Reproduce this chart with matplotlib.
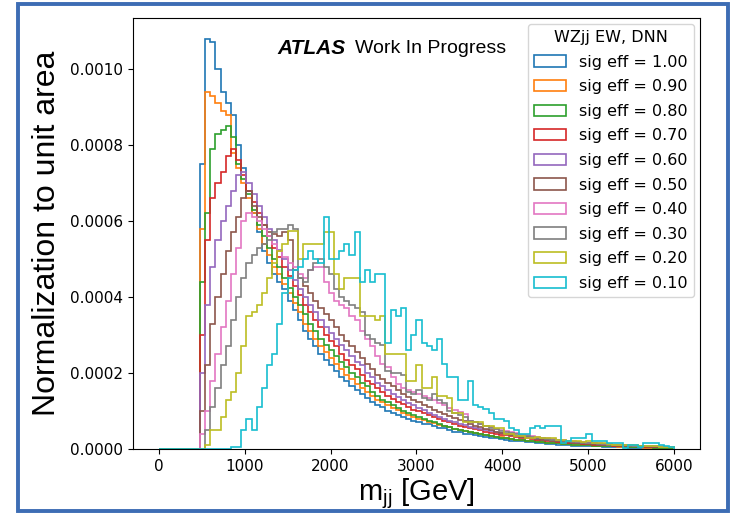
import numpy as np
import matplotlib
matplotlib.use("Agg")
import matplotlib.pyplot as plt
from matplotlib.patches import Rectangle
from matplotlib.ticker import FormatStrFormatter

plt.rcParams['mathtext.fontset'] = 'custom'
plt.rcParams['mathtext.rm'] = 'Liberation Sans'
plt.rcParams['mathtext.it'] = 'Liberation Sans:italic'

# m_jj binning, 60 GeV bins from 0 to 6000
edges = np.arange(0, 6001, 60)
unit = 1e-5  # values below are in units of 1e-5 (normalised to unit area)

eff100 = [0, 0, 0, 0, 0, 0, 0, 0, 75, 108,
          107, 100, 94, 91, 88, 80, 74, 68, 62, 57,
          52, 49, 46, 44, 42, 39, 36.5, 34, 31, 29,
          27, 25, 23.5, 22, 20.5, 19, 18, 16.5, 15.5, 14.5,
          13.5, 12.5, 11.5, 11, 10, 9.5, 9, 8.5, 8, 7.5,
          7, 6.5, 6.5, 6, 5.5, 5.5, 5, 4.5, 4.5, 4,
          4, 3.7, 3.4, 3.2, 3, 2.8, 2.6, 2.4, 2.2, 2.1,
          2, 1.9, 1.8, 1.6, 1.5, 1.4, 1.3, 1.2, 1.1, 1,
          0.9, 0.9, 0.8, 0.8, 0.7, 0.7, 0.6, 0.6, 0.5, 0.5,
          0.5, 0.4, 0.4, 0.4, 0.3, 0.3, 0.3, 0.3, 0.2, 0.2]
eff090 = [0, 0, 0, 0, 0, 0, 0, 0, 58, 94,
          93, 91, 89, 88, 78, 74, 70, 66, 62, 58,
          54, 51, 48, 46, 43.5, 41, 38.5, 36, 33, 31,
          29, 27, 25.5, 24, 22.5, 21, 19.5, 18.5, 17, 16,
          15, 14, 13, 12.3, 11.5, 10.8, 10.2, 9.6, 9, 8.5,
          8, 7.6, 7.2, 6.8, 6.4, 6, 5.7, 5.4, 5, 4.8,
          4.5, 4.2, 4, 3.8, 3.5, 3.3, 3.1, 2.9, 2.7, 2.5,
          2.4, 2.2, 2.1, 2, 1.8, 1.7, 1.6, 1.5, 1.4, 1.3,
          1.2, 1.1, 1, 1, 0.9, 0.8, 0.8, 0.7, 0.7, 0.6,
          0.6, 0.5, 0.5, 0.5, 0.4, 0.4, 0.4, 0.3, 0.3, 0.3]
eff080 = [0, 0, 0, 0, 0, 0, 0, 0, 44, 62,
          79, 83, 84, 85, 82, 75, 71, 67, 63, 59,
          56, 53, 50, 48, 45, 42.5, 40, 38, 35.5, 33,
          31, 29, 27.5, 26, 24.5, 23, 21.5, 20, 19, 17.5,
          16.5, 15, 14, 13, 12.3, 11.5, 10.8, 10, 9.5, 9,
          8.4, 7.9, 7.4, 7, 6.5, 6.1, 5.7, 5.4, 5, 4.7,
          4.4, 4.1, 3.9, 3.6, 3.4, 3.2, 3, 2.8, 2.6, 2.5,
          2.3, 2.2, 2, 1.9, 1.8, 1.7, 1.6, 1.5, 1.4, 1.3,
          1.2, 1.1, 1, 1, 0.9, 0.9, 0.8, 0.8, 0.7, 0.7,
          0.6, 0.6, 0.6, 0.5, 0.5, 0.5, 0.4, 0.4, 0.4, 0.3]
eff070 = [0, 0, 0, 0, 0, 0, 0, 0, 30, 55,
          66, 70, 73, 77, 79, 76, 72, 68, 65, 62,
          59, 56, 53, 50.5, 48, 45.5, 43, 40.5, 38, 36,
          34, 32, 30, 28.5, 27, 25, 23.5, 22, 21, 19.5,
          18, 17, 16, 15, 14, 13.2, 12.5, 11.8, 11, 10.4,
          10, 9.5, 8.9, 8.4, 7.9, 7.4, 7, 6.6, 6.2, 5.8,
          5.5, 5.2, 4.9, 4.6, 4.3, 4, 3.8, 3.6, 3.4, 3.2,
          3, 2.8, 2.6, 2.5, 2.3, 2.2, 2, 1.9, 1.8, 1.7,
          1.6, 1.5, 1.4, 1.3, 1.2, 1.1, 1, 1, 0.9, 0.9,
          0.8, 0.8, 0.7, 0.7, 0.6, 0.6, 0.6, 0.5, 0.5, 0.5]
eff060 = [0, 0, 0, 0, 0, 0, 0, 0, 20, 38,
          48, 55, 60, 64, 68, 72, 73, 70, 67, 64,
          61, 58, 55, 52.5, 50, 47, 44.5, 42, 40, 38,
          36, 34, 32, 30.5, 29, 27.5, 26, 24.5, 23, 22,
          20, 19, 17.5, 16.5, 15.5, 14.5, 13.8, 13, 12.2, 11.5,
          10.8, 10.2, 9.6, 9, 8.5, 8, 7.5, 7.1, 6.7, 6.3,
          5.9, 5.6, 5.3, 5, 4.7, 4.4, 4.2, 3.9, 3.7, 3.5,
          3.3, 3.1, 2.9, 2.7, 2.6, 2.4, 2.3, 2.1, 2, 1.9,
          1.8, 1.7, 1.6, 1.5, 1.4, 1.3, 1.2, 1.1, 1.1, 1,
          0.9, 0.9, 0.8, 0.8, 0.7, 0.7, 0.7, 0.6, 0.6, 0.6]
eff050 = [0, 0, 0, 0, 0, 0, 0, 0, 10, 22,
          33, 40, 46, 52, 57, 61, 66, 68, 64, 61,
          59, 57, 56.5, 56, 57, 55, 47, 45, 43, 41,
          39, 37, 35.5, 34, 32, 30, 28.5, 27, 25.5, 24,
          22.5, 21, 19.5, 18.5, 17.5, 16.5, 15.5, 14.5, 13.8, 13,
          12.3, 11.6, 11, 10.4, 9.8, 9.2, 8.7, 8.2, 7.7, 7.3,
          6.6, 6.2, 5.8, 5.4, 5, 4.6, 4.3, 4, 3.7, 3.5,
          3.3, 3.1, 2.9, 2.7, 2.5, 2.3, 2.2, 2, 1.9, 1.8,
          1.7, 1.6, 1.5, 1.4, 1.3, 1.2, 1.1, 1, 1, 0.9,
          0.9, 0.8, 0.8, 0.7, 0.7, 0.6, 0.6, 0.6, 0.5, 0.5]
eff040 = [0, 0, 0, 0, 0, 0, 0, 0, 4, 10,
          18, 25, 32, 39, 46, 53, 60, 62, 61, 60,
          58, 56, 54, 52, 50.5, 49, 48, 46, 45, 47,
          48, 48, 44, 41, 39, 38, 37, 35, 34, 31,
          29, 27, 24.5, 22.5, 21.5, 19, 17, 16, 15.5, 15,
          14.5, 14, 13.5, 12.8, 12, 11.5, 10.8, 10.2, 9.7, 9.2,
          7.5, 7, 6.6, 6.2, 5.8, 5.4, 5, 4.7, 4.4, 4.1,
          3.8, 3.6, 3.4, 3.2, 3, 2.8, 2.6, 2.4, 2.3, 2.1,
          2, 1.9, 1.8, 1.7, 1.6, 1.5, 1.4, 1.3, 1.2, 1.1,
          1, 1, 0.9, 0.9, 0.8, 0.8, 0.7, 0.7, 0.6, 0.6]
eff030 = [0, 0, 0, 0, 0, 0, 0, 0, 0, 5,
          11, 16, 22, 27, 34, 40, 45, 49, 51, 53,
          54, 55, 57, 58, 58, 59, 58, 45, 44, 47,
          49, 50, 48, 46, 42, 40, 39, 38, 37, 36,
          30, 29, 28, 27.5, 20.5, 20, 20, 19.5, 15, 14.5,
          15.5, 13.5, 13, 14.5, 13, 12, 10, 9.5, 9, 8.5,
          7.5, 7, 6.5, 6, 5.6, 5.2, 4.8, 4.5, 4.2, 3.9,
          3.6, 3.4, 3.2, 3, 2.8, 2.6, 2.4, 2.3, 2.1, 2,
          1.9, 1.8, 1.7, 1.6, 1.5, 1.4, 1.3, 1.2, 1.1, 1,
          1, 0.9, 0.9, 0.8, 0.8, 0.7, 0.7, 0.6, 0.6, 0.5]
eff020 = [0, 0, 0, 0, 0, 0, 0, 0, 0, 1,
          5, 5, 8.5, 13, 15, 20, 27, 35, 36, 38,
          41, 45, 49, 52, 54, 57.5, 57.5, 50, 54, 54,
          54, 54, 57, 57, 46, 42, 45, 45, 45, 35,
          35, 35, 34, 35, 25, 25, 25, 25, 18, 18,
          22, 16, 16, 19, 14, 14, 13.5, 9.5, 9.5, 7,
          7, 7, 7, 6, 6, 5.5, 5.5, 4, 4, 3.5,
          3.5, 3, 3, 3.2, 3, 2.8, 3, 2.5, 2.5, 2.2,
          2, 2, 1.8, 2, 1.6, 1.5, 1.5, 1.3, 1.2, 1.2,
          1.1, 1, 1, 0.9, 0.8, 0.8, 0.7, 0.6, 0.6, 0.5]
eff010 = [0, 0, 0, 0, 0, 0, 0, 0, 0, 0,
          0, 0, 0, 0, 0.5, 0.5, 5, 8, 5, 11,
          16, 22, 25, 33, 41, 45, 47, 48, 50, 52,
          50, 49, 61, 50, 50, 52, 54, 51, 57, 44,
          47, 44, 46, 46, 28, 36.5, 35, 37, 26, 30,
          34, 28, 27, 26, 29, 22.5, 19, 19, 13, 13,
          18, 11.5, 11, 10.5, 9.5, 8, 8, 7.5, 5.5, 5,
          4, 4, 5.5, 6, 5.5, 6, 6, 6, 1.5, 2,
          3, 3, 3, 4, 2, 2, 2, 1.5, 1.5, 1.5,
          0.2, 1, 1, 0.5, 1.5, 1.5, 1.5, 1, 0.8, 0.5]

series = [eff100, eff090, eff080, eff070, eff060,
          eff050, eff040, eff030, eff020, eff010]
labels = ["sig eff = 1.00", "sig eff = 0.90", "sig eff = 0.80",
          "sig eff = 0.70", "sig eff = 0.60", "sig eff = 0.50",
          "sig eff = 0.40", "sig eff = 0.30", "sig eff = 0.20",
          "sig eff = 0.10"]

fig = plt.figure(figsize=(7.32, 5.15), dpi=100)
ax = fig.add_axes([0.1817, 0.128, 0.7743, 0.837])

for vals, lab in zip(series, labels):
    w = np.array(vals) * unit
    ax.hist(edges[:-1], bins=edges, weights=w, histtype='step',
            linewidth=1.2, label=lab)

ax.set_xticks(np.arange(0, 6001, 1000))
ax.yaxis.set_major_formatter(FormatStrFormatter('%.4f'))
ax.tick_params(labelsize=11)

ax.set_ylabel("Normalization to unit area", fontsize=23,
              family='Liberation Sans', labelpad=6)
ax.set_xlabel(r"$\mathrm{m_{jj}}$ [GeV]", fontsize=21,
              family='Liberation Sans', labelpad=2)

ax.text(0.254, 0.93, "ATLAS", transform=ax.transAxes, fontsize=15,
        family='Liberation Sans', weight='bold', style='italic',
        va='center')
ax.text(0.391, 0.93, "Work In Progress", transform=ax.transAxes,
        fontsize=14, family='Liberation Sans', va='center')

ax.legend(title="WZjj EW, DNN", loc='upper right', fontsize=11.5,
          title_fontsize=11.5, labelspacing=0.6, borderaxespad=0.35)

# blue frame around the whole picture
fig.patches.append(Rectangle((18 / 732, 4 / 515), 710 / 732, 507 / 515,
                             transform=fig.transFigure, fill=False,
                             edgecolor='#3d6db4', linewidth=2.8))

fig.savefig("out.png", dpi=100)
